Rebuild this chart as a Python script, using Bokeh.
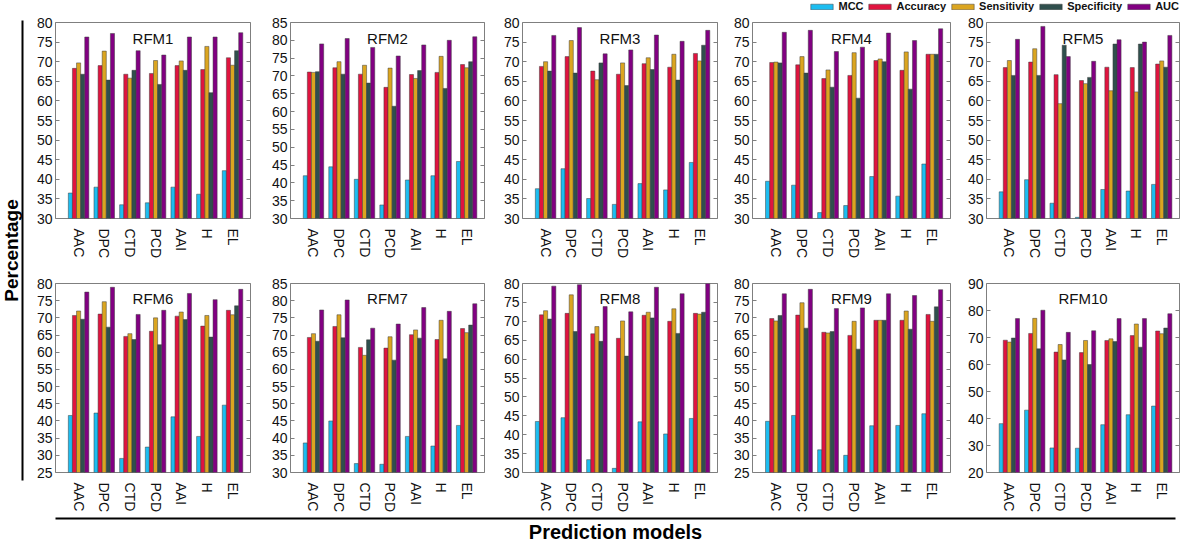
import math
from bokeh.plotting import figure
from bokeh.layouts import row, column
from bokeh.models import (Range1d, FixedTicker, LinearAxis, Label, Legend,
                          LegendItem, ColumnDataSource)
from bokeh.transform import dodge
from bokeh.embed import file_html
from bokeh.resources import INLINE

# ---------------- data ----------------
categories = ["AAC", "DPC", "CTD", "PCD", "AAI", "H", "EL"]
models = ["RFM1", "RFM2", "RFM3", "RFM4", "RFM5",
          "RFM6", "RFM7", "RFM8", "RFM9", "RFM10"]
series_names = ["MCC", "Accuracy", "Sensitivity", "Specificity", "AUC"]
series_colors = ["#1DBDF0", "#E0143F", "#DBA520", "#2F4F4D", "#820082"]

y_min = [30, 30, 30, 30, 30, 25, 30, 30, 25, 20]
y_max = [80, 85, 80, 80, 80, 80, 85, 80, 80, 90]
y_step = [5, 5, 5, 5, 5, 5, 5, 5, 5, 10]

mcc = [
    [36.5, 38.0, 33.5, 34.0, 38.0, 36.2, 42.2],
    [42.0, 44.5, 41.0, 33.8, 40.8, 42.0, 46.0],
    [37.6, 42.7, 35.1, 33.6, 38.9, 37.3, 44.3],
    [39.5, 38.5, 31.5, 33.3, 40.7, 35.7, 43.9],
    [36.8, 39.9, 33.9, 30.3, 37.4, 37.0, 38.7],
    [41.6, 42.3, 29.1, 32.4, 41.2, 35.5, 44.6],
    [38.6, 45.0, 32.6, 32.4, 40.5, 37.7, 43.7],
    [43.5, 44.5, 33.4, 31.1, 43.4, 40.2, 44.3],
    [39.9, 41.6, 31.6, 30.0, 38.6, 38.7, 42.1],
    [38.1, 43.1, 29.1, 29.0, 37.7, 41.4, 44.6],
]
accuracy = [
    [68.3, 69.0, 66.8, 67.0, 69.0, 68.0, 71.0],
    [71.1, 72.3, 70.5, 66.8, 70.4, 71.0, 73.2],
    [68.8, 71.3, 67.6, 66.8, 69.5, 68.6, 72.1],
    [69.8, 69.2, 65.7, 66.5, 70.3, 67.8, 71.9],
    [68.5, 69.9, 66.7, 65.2, 68.6, 68.5, 69.4],
    [70.7, 71.1, 64.6, 66.1, 70.5, 67.6, 72.2],
    [69.3, 72.5, 66.4, 66.2, 70.1, 68.7, 71.9],
    [71.7, 72.1, 66.7, 65.5, 71.6, 70.0, 72.1],
    [69.8, 70.8, 65.8, 64.9, 69.3, 69.3, 71.0],
    [69.0, 71.5, 64.6, 64.4, 68.9, 70.7, 72.4],
]
sensitivity = [
    [69.7, 72.7, 65.8, 70.3, 70.2, 73.9, 69.1],
    [71.0, 74.0, 73.0, 72.2, 69.3, 75.5, 72.3],
    [70.0, 75.4, 65.4, 69.7, 71.0, 71.9, 70.2],
    [69.9, 71.3, 67.9, 72.3, 70.7, 72.5, 71.9],
    [70.3, 73.3, 59.3, 64.4, 62.6, 62.3, 70.2],
    [72.0, 74.7, 65.4, 70.0, 71.7, 70.7, 70.9],
    [70.4, 75.9, 64.1, 69.5, 71.5, 74.3, 70.7],
    [72.8, 77.0, 68.6, 70.1, 72.4, 73.3, 71.9],
    [69.1, 74.4, 65.6, 69.0, 69.3, 72.0, 69.0],
    [68.3, 77.1, 67.4, 68.9, 69.5, 75.0, 71.4],
]
specificity = [
    [66.8, 65.3, 67.8, 64.2, 67.8, 62.1, 72.8],
    [71.2, 70.5, 68.0, 61.5, 71.5, 66.5, 74.0],
    [67.6, 67.1, 69.7, 63.9, 68.0, 65.3, 74.2],
    [69.7, 67.1, 63.5, 60.7, 70.0, 63.0, 71.9],
    [66.5, 66.5, 74.2, 66.0, 74.5, 74.5, 68.6],
    [69.6, 67.3, 63.7, 62.2, 69.5, 64.4, 73.5],
    [68.2, 69.2, 68.6, 62.7, 69.1, 63.1, 72.9],
    [70.6, 67.3, 64.7, 60.8, 70.9, 66.8, 72.4],
    [70.7, 67.0, 66.0, 60.9, 69.3, 66.7, 73.2],
    [69.8, 65.8, 61.7, 60.0, 68.5, 66.4, 73.5],
]
auc = [
    [76.3, 77.2, 72.8, 71.7, 76.3, 76.3, 77.4],
    [79.0, 80.5, 78.0, 75.6, 78.7, 80.0, 81.0],
    [76.7, 78.7, 72.0, 73.0, 76.8, 75.2, 78.0],
    [77.5, 78.0, 72.6, 73.7, 77.3, 75.4, 78.4],
    [75.7, 79.0, 71.3, 70.1, 75.6, 75.0, 76.7],
    [77.5, 78.9, 71.0, 72.2, 77.1, 75.3, 78.3],
    [77.3, 80.2, 72.0, 73.2, 78.0, 76.9, 79.1],
    [79.3, 79.7, 73.9, 72.5, 79.0, 77.3, 80.0],
    [77.0, 78.3, 72.7, 72.9, 77.0, 76.5, 78.2],
    [77.0, 80.1, 71.9, 72.5, 77.0, 77.0, 78.8],
]
series_values = [mcc, accuracy, sensitivity, specificity, auc]

# ---------------- styling / layout ----------------
FONT = "Liberation Sans"
FRAME = "#7f7f7f"
BAR_W = 0.16
offsets = [(-2 + j) * BAR_W for j in range(5)]

LEFT_W = 26
LEGEND_H = 14
FRAME_H = 196
# per column: (border left, frame width, border right)
col_geom = [(29, 195, 4), (36, 194, 3), (35, 195, 3), (32, 198, 3), (33, 193, 5)]
row_geom = [(8, 55), (10, 36)]   # (border top, border bottom)


def make_panel(k):
    bl, fw, br = col_geom[k % 5]
    bt, bb = row_geom[k // 5]
    p = figure(width=bl + fw + br, height=bt + FRAME_H + bb,
               output_backend="svg", toolbar_location=None,
               x_range=Range1d(-0.9, 6.7),
               y_range=Range1d(y_min[k], y_max[k]),
               min_border_left=bl, min_border_right=br,
               min_border_top=bt, min_border_bottom=bb)
    p.grid.visible = False
    p.outline_line_color = FRAME
    p.outline_line_width = 1
    p.background_fill_color = "white"
    p.border_fill_color = "white"

    data = {"xi": list(range(len(categories)))}
    for j, name in enumerate(series_names):
        data[name] = series_values[j][k]
    src = ColumnDataSource(data)
    for j, name in enumerate(series_names):
        p.vbar(x=dodge("xi", offsets[j], range=p.x_range), top=name,
               bottom=y_min[k], width=BAR_W, source=src,
               fill_color=series_colors[j], line_color="#3c3c3c",
               line_width=0.5)

    yt = list(range(y_min[k], y_max[k] + 1, y_step[k]))
    xa = p.xaxis[0]
    xa.ticker = FixedTicker(ticks=list(range(len(categories))))
    xa.major_label_overrides = {i: c for i, c in enumerate(categories)}
    xa.major_label_orientation = "vertical"
    xa.major_label_text_font = FONT
    xa.major_label_text_font_size = "14px"
    xa.major_label_text_color = "#111111"
    xa.major_label_standoff = 4
    xa.major_tick_line_color = None
    xa.minor_tick_line_color = None
    xa.axis_line_color = None

    ya = p.yaxis[0]
    ya.ticker = FixedTicker(ticks=yt)
    ya.major_label_text_font = FONT
    ya.major_label_text_font_size = "14px"
    ya.major_label_text_color = "#111111"
    ya.major_label_standoff = 3
    ya.major_tick_in = 4
    ya.major_tick_out = 0
    ya.major_tick_line_color = FRAME
    ya.minor_tick_line_color = None
    ya.axis_line_color = None

    ra = LinearAxis(ticker=FixedTicker(ticks=yt),
                    major_label_overrides={t: "" for t in yt},
                    major_label_text_font_size="1px",
                    major_label_standoff=0,
                    major_tick_in=4, major_tick_out=0,
                    major_tick_line_color=FRAME,
                    minor_tick_line_color=None,
                    axis_line_color=None)
    p.add_layout(ra, "right")

    span = y_max[k] - y_min[k]
    p.add_layout(Label(x=2.9, y=y_max[k] - span * 16.0 / FRAME_H,
                       text=models[k], text_align="center",
                       text_baseline="alphabetic", text_font=FONT,
                       text_font_size="15px", text_color="#111111"))
    return p


panels = [make_panel(k) for k in range(len(models))]

# ---------------- legend strip ----------------
TOTAL_W = 1184
grid_w = TOTAL_W - LEFT_W
lg = figure(width=grid_w, height=LEGEND_H, output_backend="svg",
            toolbar_location=None, x_range=Range1d(0, 1),
            y_range=Range1d(0, 1), min_border_left=0, min_border_top=0,
            min_border_bottom=0, min_border_right=5)
lg.axis.visible = False
lg.grid.visible = False
lg.outline_line_color = None
items = []
for j, name in enumerate(series_names):
    r = lg.vbar(x=[5.0], top=[-5.0], bottom=[-6.0], width=0.1,
                fill_color=series_colors[j], line_color="#3c3c3c",
                line_width=0.5)
    items.append(LegendItem(label=name, renderers=[r]))
legend = Legend(items=items, orientation="horizontal", location="top_right",
                glyph_width=28, glyph_height=7, label_standoff=3, spacing=2,
                padding=0, margin=0, border_line_color=None,
                background_fill_alpha=0, label_text_font=FONT,
                label_text_font_size="11px", label_text_font_style="bold",
                label_height=11, label_text_color="#111111")
lg.add_layout(legend)

# ---------------- left label strip ----------------
left_h = LEGEND_H + sum(bt + FRAME_H + bb for bt, bb in row_geom)
lf = figure(width=LEFT_W, height=left_h, output_backend="svg",
            toolbar_location=None, x_range=Range1d(0, LEFT_W),
            y_range=Range1d(0, left_h), min_border=0)
lf.axis.visible = False
lf.grid.visible = False
lf.outline_line_color = None
lf.segment(x0=[22], y0=[left_h - 20], x1=[22], y1=[left_h - 480],
           line_color="black", line_width=2)
lf.add_layout(Label(x=10.5, y=left_h - 250, text="Percentage",
                    angle=math.pi / 2, text_align="center",
                    text_baseline="middle", text_font=FONT,
                    text_font_size="19px", text_font_style="bold",
                    text_color="black"))

# ---------------- bottom label strip ----------------
bottom_h = 545 - left_h
bf = figure(width=TOTAL_W, height=bottom_h, output_backend="svg",
            toolbar_location=None, x_range=Range1d(0, TOTAL_W),
            y_range=Range1d(0, bottom_h), min_border=0)
bf.axis.visible = False
bf.grid.visible = False
bf.outline_line_color = None
bf.segment(x0=[55], y0=[bottom_h - 3], x1=[1175], y1=[bottom_h - 3],
           line_color="black", line_width=2)
bf.add_layout(Label(x=615, y=bottom_h - 16, text="Prediction models",
                    text_align="center", text_baseline="middle",
                    text_font=FONT, text_font_size="20px",
                    text_font_style="bold", text_color="black"))

layout = column(
    row(lf, column(lg, row(*panels[:5]), row(*panels[5:]))),
    bf,
)

open("out.html", "w").write(file_html(layout, INLINE))
